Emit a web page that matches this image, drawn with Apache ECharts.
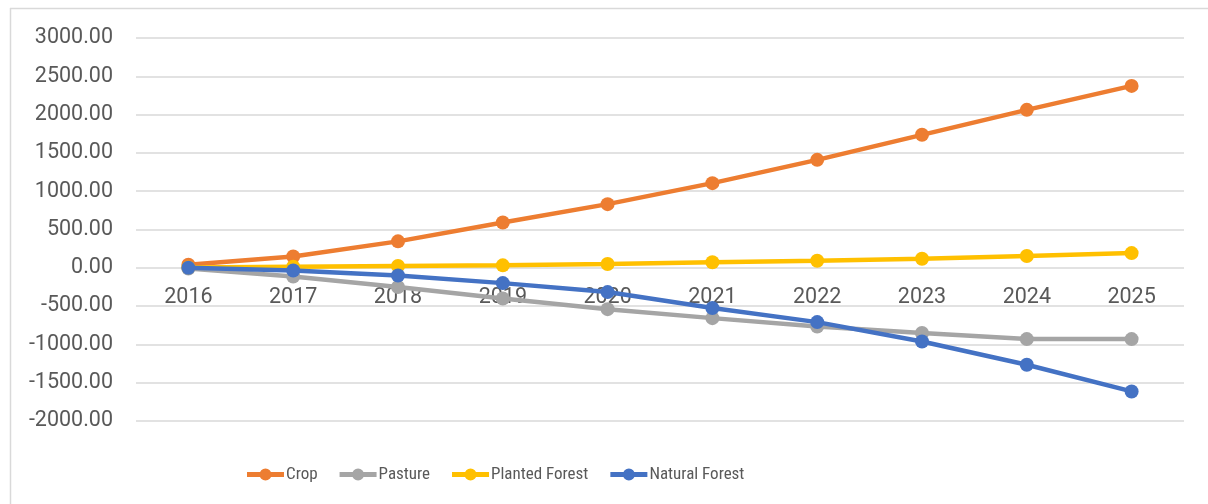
<!DOCTYPE html>
<html>
<head>
<meta charset="utf-8">
<script src="https://cdn.jsdelivr.net/npm/echarts@6/dist/echarts.min.js"></script>
<style>
html,body{margin:0;padding:0;background:#fff;}
#chart{width:1208px;height:504px;}
</style>
</head>
<body>
<div id="chart"></div>
<script>
const years = ['2016','2017','2018','2019','2020','2021','2022','2023','2024','2025'];
const crop = [40, 147, 345, 591, 831, 1105, 1409, 1736, 2062, 2375];
const pasture = [-10, -113, -250, -400, -540, -657, -766, -852, -931, -931];
const plantedForest = [5, 15, 25, 32, 50, 72, 92, 118, 155, 192];
const naturalForest = [0, -35, -100, -200, -317, -526, -709, -962, -1266, -1614];
const seriesNames = ['Crop', 'Pasture', 'Planted Forest', 'Natural Forest'];
const seriesColors = ['#ED7D31', '#A5A5A5', '#FFC000', '#4472C4'];

const chart = echarts.init(document.getElementById('chart'));
const dataSets = [crop, pasture, plantedForest, naturalForest];
const font = 'Roboto';
const legendFont = '"Liberation Sans Narrow", "Roboto Condensed", Roboto';
const legendIcon = 'path://M0,4.5H14V9.5H0Z M23,4.5H37V9.5H23Z M12.5,7A6,6 0 1 1 24.5,7A6,6 0 1 1 12.5,7Z';

chart.setOption({
  animation: false,
  backgroundColor: '#fff',
  color: seriesColors,
  graphic: [
    {type: 'line', shape: {x1: 10, y1: 8.5, x2: 1208, y2: 8.5}, style: {stroke: '#d9d9d9', lineWidth: 1.5}},
    {type: 'line', shape: {x1: 10.5, y1: 8, x2: 10.5, y2: 504}, style: {stroke: '#d9d9d9', lineWidth: 1.5}}
  ],
  grid: {left: 136, right: 24, top: 38, bottom: 83, containLabel: false},
  legend: {
    left: 242,
    top: 461,
    itemWidth: 37,
    itemHeight: 14,
    itemGap: 22,
    icon: legendIcon,
    textStyle: {fontFamily: legendFont, fontSize: 17, color: '#595959', padding: [0, 0, 0, -3]},
    data: seriesNames
  },
  xAxis: {
    type: 'category',
    data: years,
    boundaryGap: true,
    position: 'bottom',
    offset: -153,
    axisLine: {show: false},
    axisTick: {show: false},
    axisLabel: {fontFamily: font, fontSize: 21.5, color: '#595959', margin: 19}
  },
  yAxis: {
    type: 'value',
    min: -2000,
    max: 3000,
    interval: 500,
    axisLine: {show: false},
    axisTick: {show: false},
    splitLine: {lineStyle: {color: '#d9d9d9', width: 1.5}},
    axisLabel: {fontFamily: font, fontSize: 21.5, color: '#595959', margin: 23,
      formatter: v => v.toFixed(2)}
  },
  series: dataSets.map((d, i) => ({
    name: seriesNames[i],
    type: 'line',
    data: d,
    symbol: 'circle',
    symbolSize: 14,
    lineStyle: {width: 4.5, color: seriesColors[i]},
    itemStyle: {color: seriesColors[i]},
    z: 2 + i
  }))
});
</script>
</body>
</html>
